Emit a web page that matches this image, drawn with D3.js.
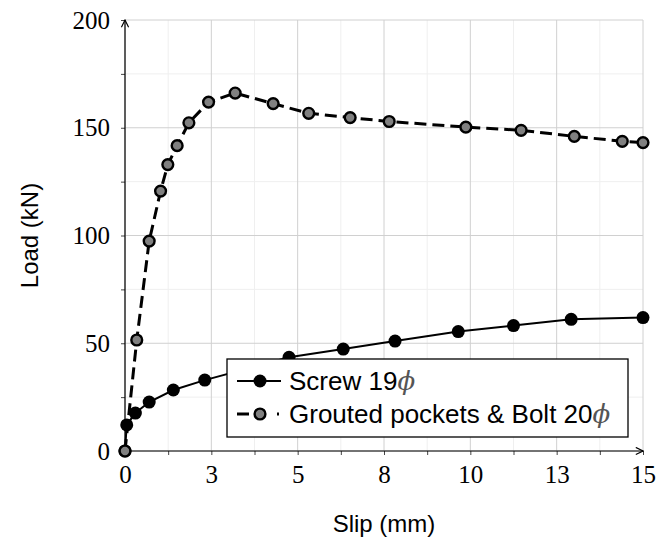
<!DOCTYPE html>
<html lang="en">
<head>
  <meta charset="UTF-8" />
  <title>Load vs slip</title>
  <script src="https://d3js.org/d3.v7.min.js"></script>
  <style>
    body { margin: 0; background: #fff; }
    .tick text { font-family: "Liberation Serif", serif; font-size: 25px; fill: #000; }
    .lbl { font-family: "Liberation Sans", Arial, sans-serif; font-size: 24px; }
  </style>
</head>
<body>
  <svg width="657" height="545" id="chart"></svg>

  <script>
    // Screw 19 (solid line, black markers)
    const screwSlip = [0, 0.05, 0.30, 0.70, 1.40, 2.31, 4.75, 6.32, 7.82, 9.65, 11.25, 12.92, 15.0];
    const screwLoad = [0, 12.1, 17.6, 22.7, 28.3, 32.9, 43.5, 47.3, 51.0, 55.4, 58.2, 61.1, 61.9];

    // Grouted pockets & Bolt 20 (dashed line, grey markers)
    const groutSlip = [0, 0.34, 0.70, 1.03, 1.24, 1.51, 1.85, 2.42, 3.19, 4.29, 5.32, 6.52, 7.65, 9.87, 11.47, 13.01, 14.40, 15.0];
    const groutLoad = [0, 51.5, 97.4, 120.6, 132.9, 141.7, 152.3, 161.9, 166.1, 161.2, 156.7, 154.7, 152.9, 150.3, 148.8, 146.0, 143.7, 143.1];

    const xTicks = [0, 2.5, 5, 7.5, 10, 12.5, 15];
    const xTickLabels = ["0", "3", "5", "8", "10", "13", "15"];
    const xMinor = [1.25, 3.75, 6.25, 8.75, 11.25, 13.75];
    const yTicks = [0, 50, 100, 150, 200];
    const yMinor = [25, 75, 125, 175];

    const svg = d3.select("#chart");
    const width = 657, height = 545;
    const margin = { top: 20, right: 14, bottom: 94, left: 125 };
    const iw = width - margin.left - margin.right;
    const ih = height - margin.top - margin.bottom;

    const x = d3.scaleLinear().domain([0, 15]).range([0, iw]);
    const y = d3.scaleLinear().domain([0, 200]).range([ih, 0]);

    const g = svg.append("g").attr("transform", `translate(${margin.left},${margin.top})`);

    // grid
    g.selectAll(".vminor").data(xMinor).enter().append("line")
      .attr("x1", d => x(d)).attr("x2", d => x(d)).attr("y1", 0).attr("y2", ih)
      .attr("stroke", "#efefef").attr("stroke-width", 1);
    g.selectAll(".hminor").data(yMinor).enter().append("line")
      .attr("y1", d => y(d)).attr("y2", d => y(d)).attr("x1", 0).attr("x2", iw)
      .attr("stroke", "#efefef").attr("stroke-width", 1);
    g.selectAll(".vmajor").data(xTicks).enter().append("line")
      .attr("x1", d => x(d)).attr("x2", d => x(d)).attr("y1", 0).attr("y2", ih)
      .attr("stroke", "#d0d0d0").attr("stroke-width", 1);
    g.selectAll(".hmajor").data(yTicks).enter().append("line")
      .attr("y1", d => y(d)).attr("y2", d => y(d)).attr("x1", 0).attr("x2", iw)
      .attr("stroke", "#d0d0d0").attr("stroke-width", 1);

    // axes
    const xAxis = d3.axisBottom(x).tickValues(xTicks.concat(xMinor))
      .tickFormat(d => { const i = xTicks.indexOf(d); return i < 0 ? "" : xTickLabels[i]; })
      .tickSize(4).tickPadding(10);
    const gx = g.append("g").attr("transform", `translate(0,${ih})`).call(xAxis);
    gx.select(".domain").remove();
    gx.selectAll(".tick line").attr("stroke", "#444");

    const yAxis = d3.axisLeft(y).tickValues(yTicks.concat(yMinor))
      .tickFormat(d => yTicks.includes(d) ? d : "")
      .tickSize(4).tickPadding(11);
    const gy = g.append("g").call(yAxis);
    gy.select(".domain").remove();
    gy.selectAll(".tick line").attr("stroke", "#444");

    const defs = svg.append("defs");
    defs.append("marker").attr("id", "arrow").attr("viewBox", "0 0 10 10")
      .attr("refX", 9).attr("refY", 5).attr("markerWidth", 9).attr("markerHeight", 9)
      .attr("markerUnits", "userSpaceOnUse").attr("orient", "auto")
      .append("path").attr("d", "M1,1 L9,5 L1,9").attr("fill", "none")
      .attr("stroke", "#000").attr("stroke-width", 1.3);

    g.append("line").attr("x1", 0).attr("x2", 0).attr("y1", ih).attr("y2", 0)
      .attr("stroke", "#000").attr("stroke-width", 1.2).attr("marker-end", "url(#arrow)");
    g.append("line").attr("x1", 0).attr("x2", iw).attr("y1", ih).attr("y2", ih)
      .attr("stroke", "#000").attr("stroke-width", 1.2).attr("marker-end", "url(#arrow)");

    // series
    const screw = screwSlip.map((s, i) => [s, screwLoad[i]]);
    const grout = groutSlip.map((s, i) => [s, groutLoad[i]]);
    const line = d3.line().x(d => x(d[0])).y(d => y(d[1]));

    g.append("path").datum(screw).attr("d", line).attr("fill", "none")
      .attr("stroke", "#000").attr("stroke-width", 2);
    g.selectAll(".screwPt").data(screw).enter().append("circle")
      .attr("cx", d => x(d[0])).attr("cy", d => y(d[1])).attr("r", 6.5).attr("fill", "#000");

    g.append("path").datum(grout).attr("d", line).attr("fill", "none")
      .attr("stroke", "#000").attr("stroke-width", 3).attr("stroke-dasharray", "12,6");
    g.selectAll(".groutPt").data(grout).enter().append("circle")
      .attr("cx", d => x(d[0])).attr("cy", d => y(d[1])).attr("r", 5.4)
      .attr("fill", "#808080").attr("stroke", "#000").attr("stroke-width", 2.4);

    // legend
    const lg = svg.append("g").attr("transform", "translate(227,359)");
    lg.append("rect").attr("width", 401).attr("height", 78)
      .attr("fill", "#fff").attr("stroke", "#000").attr("stroke-width", 1.3);

    lg.append("line").attr("x1", 10).attr("x2", 54).attr("y1", 22).attr("y2", 22)
      .attr("stroke", "#000").attr("stroke-width", 2);
    lg.append("circle").attr("cx", 33).attr("cy", 22).attr("r", 6.5).attr("fill", "#000");
    const t1 = lg.append("text").attr("class", "lbl").attr("x", 62).attr("y", 31).style("font-size", "26px");
    t1.append("tspan").text("Screw 19");
    t1.append("tspan").attr("font-family", "DejaVu Serif").attr("font-style", "italic").attr("fill", "#555").text("ϕ");

    lg.append("line").attr("x1", 10).attr("x2", 58).attr("y1", 55).attr("y2", 55)
      .attr("stroke", "#000").attr("stroke-width", 3).attr("stroke-dasharray", "12,6,8,14,2");
    lg.append("circle").attr("cx", 33).attr("cy", 55).attr("r", 5.4)
      .attr("fill", "#808080").attr("stroke", "#000").attr("stroke-width", 2.4);
    const t2 = lg.append("text").attr("class", "lbl").attr("x", 62).attr("y", 64).style("font-size", "26px");
    t2.append("tspan").text("Grouted pockets & Bolt 20");
    t2.append("tspan").attr("font-family", "DejaVu Serif").attr("font-style", "italic").attr("fill", "#555").text("ϕ");

    // axis titles
    svg.append("text").attr("class", "lbl").attr("x", margin.left + iw / 2).attr("y", 532)
      .attr("text-anchor", "middle").text("Slip (mm)");
    svg.append("text").attr("class", "lbl").attr("text-anchor", "middle")
      .attr("transform", `translate(38,${margin.top + ih / 2}) rotate(-90)`).text("Load (kN)");
  </script>
</body>
</html>
